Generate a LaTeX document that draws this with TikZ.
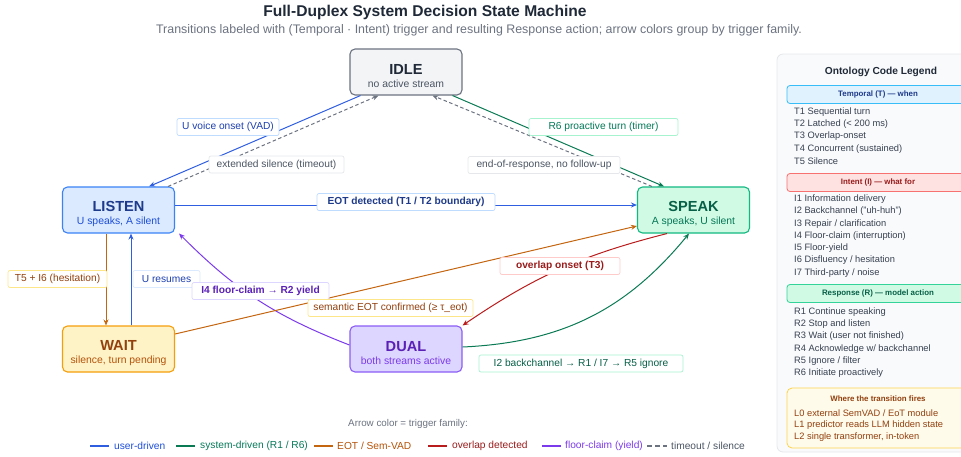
\documentclass[tikz,border=0pt]{standalone}
\usepackage{fontspec}
\setmainfont{Liberation Sans}
\usetikzlibrary{arrows.meta,calc}
\definecolor{cblue}{HTML}{2F5FE0}
\definecolor{cgreen}{HTML}{0A7A55}
\definecolor{corange}{HTML}{C4650F}
\definecolor{cred}{HTML}{B91C1C}
\definecolor{cpurple}{HTML}{7C3AED}
\definecolor{cgray}{HTML}{6B7280}
\definecolor{idleF}{HTML}{F3F4F6}\definecolor{idleB}{HTML}{6B7280}\definecolor{idleT}{HTML}{1F2937}\definecolor{idleS}{HTML}{4B5563}
\definecolor{lisF}{HTML}{DBEAFE}\definecolor{lisB}{HTML}{3B82F6}\definecolor{lisT}{HTML}{1E3A8A}\definecolor{lisS}{HTML}{1D4ED8}
\definecolor{spkF}{HTML}{D1FAE5}\definecolor{spkB}{HTML}{10B981}\definecolor{spkT}{HTML}{065F46}\definecolor{spkS}{HTML}{047857}
\definecolor{waiF}{HTML}{FEF3C7}\definecolor{waiB}{HTML}{F59E0B}\definecolor{waiT}{HTML}{92400E}\definecolor{waiS}{HTML}{B45309}
\definecolor{duaF}{HTML}{DDD6FE}\definecolor{duaB}{HTML}{8B5CF6}\definecolor{duaT}{HTML}{5B21B6}\definecolor{duaS}{HTML}{7C3AED}
\definecolor{bBlue}{HTML}{BFDBFE}\definecolor{bGray}{HTML}{E5E7EB}\definecolor{bGreen}{HTML}{A7F3D0}
\definecolor{bYel}{HTML}{FDE68A}\definecolor{bRed}{HTML}{FECACA}\definecolor{bPur}{HTML}{DDD6FE}
\definecolor{tBlue}{HTML}{1E40AF}\definecolor{tGray}{HTML}{4B5563}\definecolor{tGreen}{HTML}{047857}
\definecolor{tBrown}{HTML}{92400E}\definecolor{tRed}{HTML}{991B1B}\definecolor{tPur}{HTML}{5B21B6}
\definecolor{titleC}{HTML}{1F2937}\definecolor{subC}{HTML}{6B7280}
\definecolor{panelF}{HTML}{F9FAFB}\definecolor{panelB}{HTML}{E5E7EB}
\definecolor{itemC}{HTML}{374151}
\definecolor{hTF}{HTML}{E0F2FE}\definecolor{hTB}{HTML}{38BDF8}\definecolor{hTT}{HTML}{1E3A8A}
\definecolor{hIF}{HTML}{FEE2E2}\definecolor{hIB}{HTML}{F87171}\definecolor{hIT}{HTML}{991B1B}
\definecolor{hRF}{HTML}{D1FAE5}\definecolor{hRB}{HTML}{34D399}\definecolor{hRT}{HTML}{065F46}
\definecolor{hWF}{HTML}{FFFBEB}\definecolor{hWB}{HTML}{FCD34D}\definecolor{hWT}{HTML}{92400E}
\newcommand{\sttext}[3]{{\rule{0pt}{18.5pt}\fontsize{14.6}{15}\selectfont\bfseries\color{#1}#2}\\[0.5pt]{\fontsize{10.4}{12}\selectfont\color{#1S}#3}}
\begin{document}
\begin{tikzpicture}[x=1pt,y=-1pt,
  stbox/.style={rounded corners=5pt, line width=1.1pt, minimum width=112pt, minimum height=46pt, align=center, inner sep=0pt},
  lab/.style 2 args={draw=#1, fill=white, text=#2, rounded corners=2pt, line width=0.7pt, inner sep=0pt, minimum height=17pt, font=\fontsize{10.2}{12}\selectfont},
  conn/.style={line width=1pt, -{Stealth[length=6pt,width=5pt]}},
  dsh/.style={conn, cgray, dash pattern=on 3.5pt off 2.5pt},
  item/.style={anchor=west, inner sep=0pt, text=itemC, font=\fontsize{9.3}{11}\selectfont},
  hdr/.style={rounded corners=3pt, line width=0.8pt, minimum width=182pt, minimum height=18pt, inner sep=0pt, font=\fontsize{7.9}{9}\selectfont\bfseries},
  leg/.style={anchor=west, inner sep=0pt, font=\fontsize{10.2}{12}\selectfont},
  legline/.style={line width=1.5pt}]
\useasboundingbox (0,0) rectangle (961,456);
\clip (0,0) rectangle (961,456);

% titles
\node[text=titleC, font=\fontsize{15.6}{18}\selectfont\bfseries] (title) at (425,12) {Full-Duplex System Decision State Machine};
\node[text=subC, font=\fontsize{12.4}{14}\selectfont] (subtitle) at (479,30) {Transitions labeled with (Temporal · Intent) trigger and resulting Response action; arrow colors group by trigger family.};

% states
\node[stbox, draw=idleB, fill=idleF] (idle) at (406,72) {{\rule{0pt}{18.5pt}\fontsize{14.6}{15}\selectfont\bfseries\color{idleT}IDLE}\\[0.5pt]{\fontsize{10.4}{12}\selectfont\color{idleS}no active stream}};
\node[stbox, draw=lisB, fill=lisF] (listen) at (118.5,210) {{\rule{0pt}{18.5pt}\fontsize{14.6}{15}\selectfont\bfseries\color{lisT}LISTEN}\\[0.5pt]{\fontsize{10.4}{12}\selectfont\color{lisS}U speaks, A silent}};
\node[stbox, draw=spkB, fill=spkF] (speak) at (693.5,210) {{\rule{0pt}{18.5pt}\fontsize{14.6}{15}\selectfont\bfseries\color{spkT}SPEAK}\\[0.5pt]{\fontsize{10.4}{12}\selectfont\color{spkS}A speaks, U silent}};
\node[stbox, draw=waiB, fill=waiF] (wait) at (118.5,349) {{\rule{0pt}{18.5pt}\fontsize{14.6}{15}\selectfont\bfseries\color{waiT}WAIT}\\[0.5pt]{\fontsize{10.4}{12}\selectfont\color{waiS}silence, turn pending}};
\node[stbox, draw=duaB, fill=duaF] (dual) at (406,349) {{\rule{0pt}{18.5pt}\fontsize{14.6}{15}\selectfont\bfseries\color{duaT}DUAL}\\[0.5pt]{\fontsize{10.4}{12}\selectfont\color{duaS}both streams active}};

% connectors
\draw[conn, cblue] ([xshift=11pt]idle.south west) -- ([xshift=-26pt]listen.north east);
\draw[dsh] ([xshift=-7pt]listen.north east) -- ([xshift=29pt]idle.south west);
\draw[conn, cgreen] ([xshift=-10pt]idle.south east) -- ([xshift=27pt]speak.north west);
\draw[dsh] ([xshift=15pt]speak.north west) -- ([xshift=-30pt]idle.south east);
\draw[conn, cblue] ([yshift=5pt]listen.east) -- ([yshift=5pt]speak.west);
\draw[conn, corange] ([xshift=-12.5pt]listen.south) -- ([xshift=-12.5pt]wait.north);
\draw[conn, cblue] ([xshift=12.5pt]wait.north) -- ([xshift=12.5pt]listen.south);
\draw[conn, cpurple] ([yshift=4pt]dual.west) to[bend left=12] ([xshift=4pt]listen.south east);
\draw[conn, corange] ([yshift=15pt]wait.east) -- ([yshift=-16pt]speak.west);
\draw[conn, cred] ([xshift=-26.5pt]speak.south) to[bend right=10] (dual.north east);
\draw[conn, cgreen] ([yshift=2pt]dual.east) to[bend right=24] ([xshift=-4.5pt]speak.south);

% connector labels
\node[lab={bBlue}{tBlue}, minimum width=102pt] (l1) at (228,127) {U voice onset (VAD)};
\node[lab={bGray}{tGray}, minimum width=135pt] (l2) at (276.5,164.5) {extended silence (timeout)};
\node[lab={bGreen}{tGreen}, minimum width=149pt] (l3) at (603.5,127) {R6 proactive turn (timer)};
\node[lab={bGray}{tGray}, minimum width=152pt] (l4) at (544,165) {end-of-response, no follow-up};
\node[lab={bBlue}{lisT}, minimum width=178pt, font=\fontsize{10.2}{12}\selectfont\bfseries] (l5) at (406,202) {EOT detected (T1 / T2 boundary)};
\node[lab={bYel}{tBrown}, minimum width=99pt] (l6) at (57.5,279) {T5 + I6 (hesitation)};
\node[lab={lisF}{tBlue}, minimum width=67pt] (l7) at (166.5,279) {U resumes};
\node[lab={bPur}{tPur}, minimum width=137pt, font=\fontsize{10.2}{12}\selectfont\bfseries] (l8) at (260.5,291) {I4 floor-claim → R2 yield};
\node[lab={bYel}{tBrown}, minimum width=165pt] (l9) at (390.5,308) {semantic EOT confirmed (≥ τ\_eot)};
\node[lab={bRed}{tRed}, minimum width=120pt, font=\fontsize{10.2}{12}\selectfont\bfseries] (l10) at (560,266) {overlap onset (T3)};
\node[lab={bGreen}{spkT}, minimum width=204pt] (l11) at (581,363.5) {I2 backchannel → R1 / I7 → R5 ignore};

% bottom legend
\node[text=subC, font=\fontsize{9.8}{12}\selectfont] (legtitle) at (408,424) {Arrow color = trigger family:};
\draw[legline, cblue] (90,446) -- (109,446);
\node[leg, text=lisS] (lg1) at (114,446) {user-driven};
\draw[legline, cgreen] (176,446) -- (195,446);
\node[leg, text=tGreen] (lg2) at (200,446) {system-driven (R1 / R6)};
\draw[legline, corange] (314,446) -- (333,446);
\node[leg, text=waiS] (lg3) at (337,446) {EOT / Sem-VAD};
\draw[legline, cred] (428,446) -- (447,446);
\node[leg, text=tRed] (lg4) at (452,446) {overlap detected};
\draw[legline, cpurple] (542,446) -- (561,446);
\node[leg, text=duaS] (lg5) at (565,446) {floor-claim (yield)};
\draw[legline, cgray, dash pattern=on 5pt off 3pt] (647,446) -- (667,446);
\node[leg, text=tGray] (lg6) at (671,446) {timeout / silence};

% right legend panel
\node[draw=panelB, fill=panelF, rounded corners=6pt, line width=0.8pt, minimum width=202pt, minimum height=398pt, inner sep=0pt] (panel) at (878,253) {};
\node[text=titleC, font=\fontsize{10.2}{12}\selectfont\bfseries] (ptitle) at (881,72) {Ontology Code Legend};
\node[hdr, draw=hTB, fill=hTF, text=hTT] (hT) at (878,94.5) {Temporal (T) — when};
\foreach \t [count=\i] in {T1 Sequential turn, T2 Latched (< 200 ms), T3 Overlap-onset, T4 Concurrent (sustained), T5 Silence}
  \node[item] (tT\i) at (794,{112+12.2*(\i-1)}) {\t};
\node[hdr, draw=hIB, fill=hIF, text=hIT] (hI) at (878,182.5) {Intent (I) — what for};
\foreach \t [count=\i] in {I1 Information delivery, I2 Backchannel ("uh-huh"), I3 Repair / clarification, I4 Floor-claim (interruption), I5 Floor-yield, I6 Disfluency / hesitation, I7 Third-party / noise}
  \node[item] (tI\i) at (794,{199+12.3*(\i-1)}) {\t};
\node[hdr, draw=hRB, fill=hRF, text=hRT] (hR) at (878,293.5) {Response (R) — model action};
\foreach \t [count=\i] in {R1 Continue speaking, R2 Stop and listen, R3 Wait (user not finished), R4 Acknowledge w/ backchannel, R5 Ignore / filter, R6 Initiate proactively}
  \node[item] (tR\i) at (794,{312+12.2*(\i-1)}) {\t};
\node[draw=hWB, fill=hWF, rounded corners=5pt, line width=0.8pt, minimum width=182pt, minimum height=60pt, inner sep=0pt] (hW) at (878,418) {};
\node[text=hWT, font=\fontsize{7.9}{9}\selectfont\bfseries] (hWt) at (878,399) {Where the transition fires};
\foreach \t [count=\i] in {L0 external SemVAD / EoT module, L1 predictor reads LLM hidden state, {L2 single transformer, in-token}}
  \node[item, text=hWT] (tL\i) at (794,{413+12*(\i-1)}) {\t};
\end{tikzpicture}
\end{document}
